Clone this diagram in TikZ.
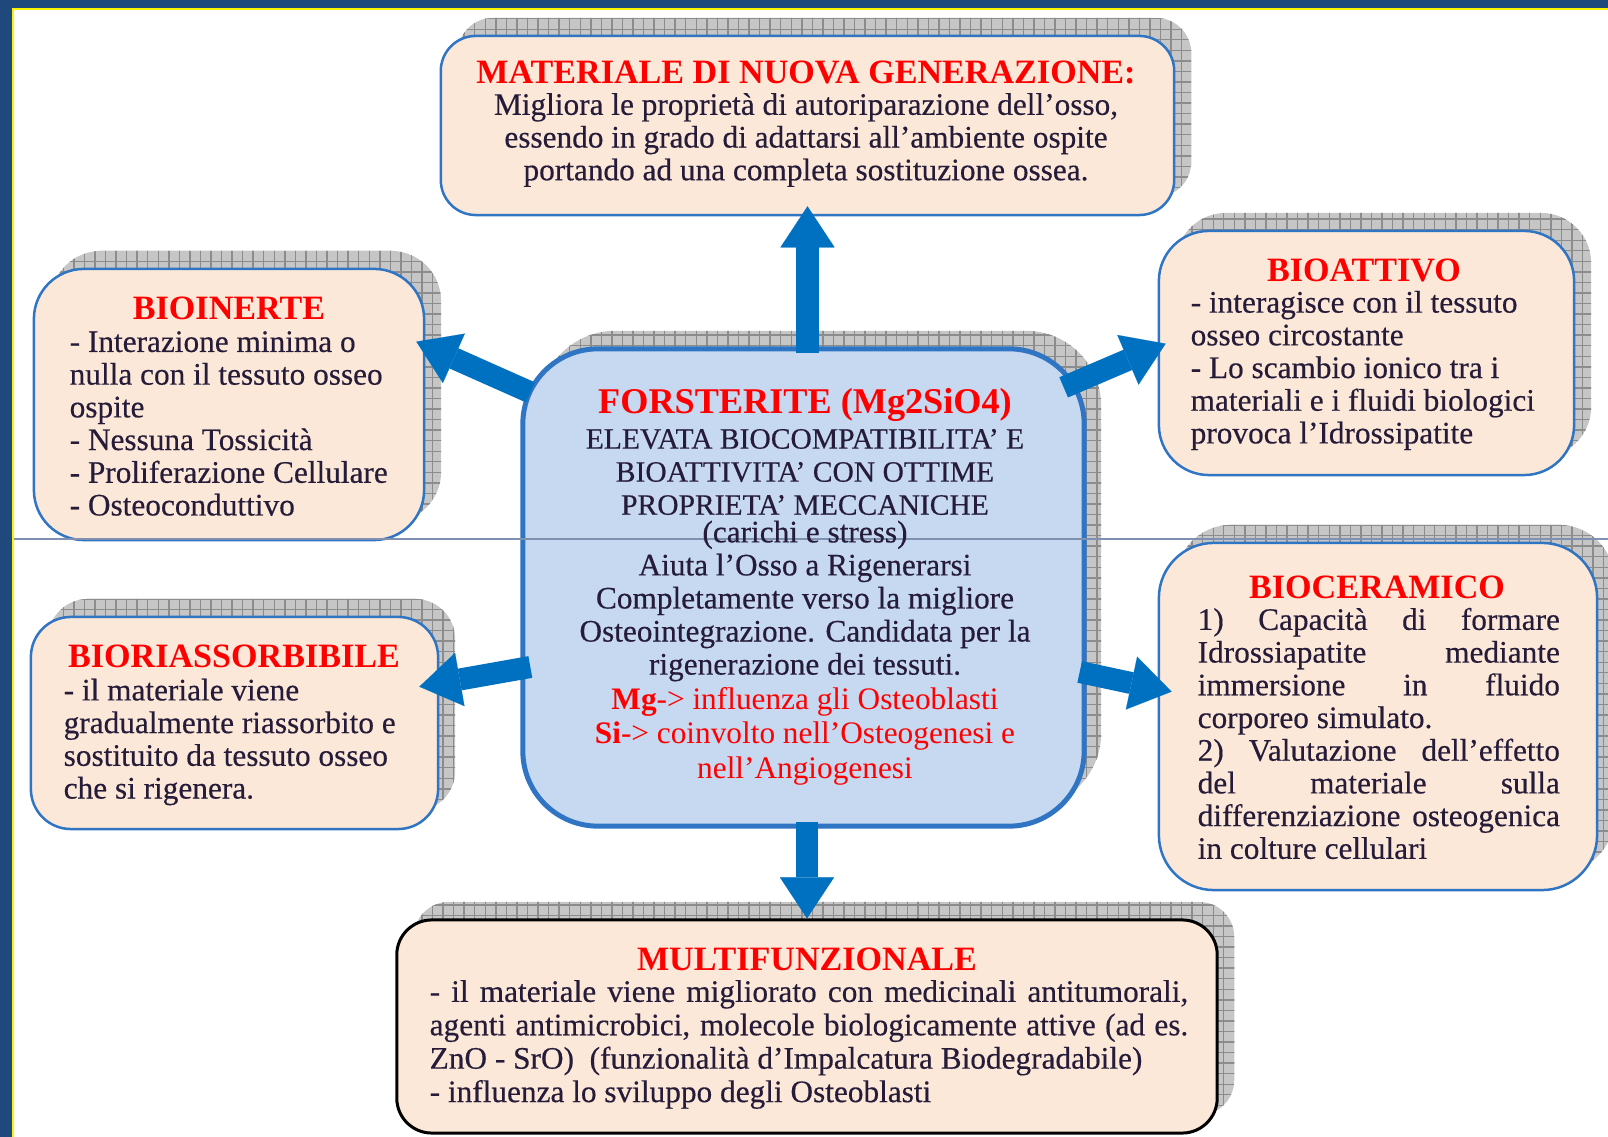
\documentclass[tikz,border=0pt]{standalone}
\usepackage{fontspec}
\setmainfont{Liberation Serif}
\newfontfamily\heavyserif{Liberation Serif}[Ligatures=TeX, FakeBold=0.4]
\usetikzlibrary{arrows.meta,calc,patterns,shadows,positioning}
\definecolor{frameblue}{RGB}{31,73,125}
\definecolor{peach}{RGB}{252,232,216}
\definecolor{paleblue}{RGB}{198,217,240}
\definecolor{edgeblue}{RGB}{47,117,196}
\definecolor{arrowblue}{RGB}{0,112,192}
\definecolor{ink}{RGB}{38,28,58}
\definecolor{rulegrey}{RGB}{128,144,176}
\definecolor{shadowgrey}{RGB}{198,198,198}
\definecolor{gridgrey}{RGB}{140,140,140}

\begin{document}
\begin{tikzpicture}[x=0.01cm, y=-0.01cm]
		\tikzstyle{gridshadow} = [general shadow={fill=shadowgrey, shadow xshift=1.7mm, shadow yshift=1.8mm}, general shadow={pattern=grid, pattern color=gridgrey, shadow xshift=1.7mm, shadow yshift=1.8mm}]
		\tikzstyle{panel} = [draw=edgeblue, line width=0.25mm, fill=peach, inner sep=0pt, gridshadow]
		\tikzstyle{hub} = [panel, fill=paleblue, line width=0.5mm, rounded corners=7.5mm]
		\tikzstyle{head} = [text=red, inner sep=0pt, font=\fontsize{9.7}{11}\selectfont\bfseries]
		\tikzstyle{txt} = [text=ink, inner sep=0pt, font=\heavyserif\fontsize{8.9}{9.3}\selectfont]
		\tikzstyle{flow} = [draw=arrowblue, line width=2.2mm, -{Triangle[width=5.4mm, length=4.1mm, line width=0.01mm, fill=arrowblue]}]

		\useasboundingbox (0,0) rectangle (1608,1137);

		% cornice
		\fill[frameblue] (0,0) rectangle (12,1137);
		\fill[frameblue] (0,0) rectangle (1608,8);
		\fill[yellow] (12,8) rectangle (14,1137);
		\fill[yellow] (12,8) rectangle (1608,10);

		% riquadri
		\node[panel, rounded corners=3.5mm, minimum width=73.3mm, minimum height=17.9mm] (nuova) at (807.5,125.5) {};
		\node[panel, rounded corners=5mm, minimum width=39mm, minimum height=27.1mm] (inerte) at (229,404.5) {};
		\node[panel, rounded corners=5mm, minimum width=41.5mm, minimum height=24.4mm] (attivo) at (1366.5,353) {};
		\node[hub, minimum width=56.1mm, minimum height=47.7mm] (fors) at (803.5,587.5) {};
		\node[panel, rounded corners=4mm, minimum width=40.7mm, minimum height=21.2mm] (riass) at (234.5,723) {};
		\node[panel, rounded corners=5.5mm, minimum width=43.8mm, minimum height=34.7mm] (ceram) at (1378,716.5) {};
		\node[panel, draw=black, line width=0.3mm, rounded corners=3.5mm, minimum width=82mm, minimum height=21.3mm] (multi) at (807,1026.5) {};

		\draw[rulegrey, line width=0.15mm] (14,539) -- (1608,539);

		% frecce
		\path
		($(nuova.south |- fors.north)+(0,7)$) edge[flow] ($(nuova.south)+(0,-10)$)
		($(multi.north |- fors.south)+(0,-7)$) edge[flow] (multi.north)
		($(fors.north west)+(10,46)$) edge[flow] ($(inerte.north east)+(-9,74)$)
		($(fors.north east)+(-23,41)$) edge[flow] ($(attivo.north west)+(8,114)$)
		($(fors.west)+(10,79.5)$) edge[flow] ($(riass.north east)+(-20,71)$)
		($(fors.east)+(-7,84.5)$) edge[flow] ($(ceram.north west)+(14,150)$)
		;

		% testi
		\node[head] (nuovaH) at (806,72) {MATERIALE DI NUOVA GENERAZIONE:};
		\node[txt, align=center] (nuovaT) at (806,140) {Migliora le proprietà di autoriparazione dell'osso,\\essendo in grado di adattarsi all'ambiente ospite\\portando ad una completa sostituzione ossea.};

		\node[head] (inerteH) at (229,308) {BIOINERTE};
		\node[txt, align=left, anchor=west] (inerteT) at (69,423.5) {- Interazione minima o\\nulla con il tessuto osseo\\ospite\\- Nessuna Tossicità\\- Proliferazione Cellulare\\- Osteoconduttivo};

		\node[head] (attivoH) at (1364,270) {BIOATTIVO};
		\node[txt, align=left, anchor=west] (attivoT) at (1190,370.5) {- interagisce con il tessuto\\osseo circostante\\- Lo scambio ionico tra i\\materiali e i fluidi biologici\\provoca l'Idrossipatite};

		\node[head, font=\fontsize{10.3}{12}\selectfont\bfseries] (forsH) at (805,405) {FORSTERITE (Mg2SiO4)};
		\node[txt, align=center, font=\heavyserif\fontsize{8.4}{9.4}\selectfont] (forsA) at (805,472) {ELEVATA BIOCOMPATIBILITA' E\\BIOATTIVITA' CON OTTIME\\PROPRIETA' MECCANICHE};
		\node[txt, align=center, font=\heavyserif\fontsize{8.9}{9.4}\selectfont] (forsB) at (805,601) {(carichi e stress)\\Aiuta l'Osso a Rigenerarsi\\Completamente verso la migliore\\Osteointegrazione. Candidata per la\\rigenerazione dei tessuti.};
		\node[txt, text=red, align=center, font=\fontsize{8.9}{9.8}\selectfont] (forsC) at (805,736) {\textbf{Mg}-> influenza gli Osteoblasti\\\textbf{Si}-> coinvolto nell'Osteogenesi e\\nell'Angiogenesi};

		\node[head] (riassH) at (234,656) {BIORIASSORBIBILE};
		\node[txt, align=left, anchor=west] (riassT) at (63,742) {- il materiale viene\\gradualmente riassorbito e\\sostituito da tessuto osseo\\che si rigenera.};

		\node[head] (ceramH) at (1377,587) {BIOCERAMICO};
		\node[txt, align=left, anchor=west] (ceramT) at (1197,733.5) {\makebox[36.2mm][s]{1) Capacità di formare}\\\makebox[36.2mm][s]{Idrossiapatite mediante}\\\makebox[36.2mm][s]{immersione in fluido}\\corporeo simulato.\\\makebox[36.2mm][s]{2) Valutazione dell'effetto}\\\makebox[36.2mm][s]{del materiale sulla}\\\makebox[36.2mm][s]{differenziazione osteogenica}\\in colture cellulari};

		\node[head] (multiH) at (807,959) {MULTIFUNZIONALE};
		\node[txt, align=left, anchor=west, font=\heavyserif\fontsize{8.9}{9.5}\selectfont] (multiT) at (429,1044.5) {\makebox[75.8mm][s]{- il materiale viene migliorato con medicinali antitumorali,}\\\makebox[75.8mm][s]{agenti antimicrobici, molecole biologicamente attive (ad es.}\\ZnO - SrO)~ (funzionalità d'Impalcatura Biodegradabile)\\- influenza lo sviluppo degli Osteoblasti};
\end{tikzpicture}
\end{document}
